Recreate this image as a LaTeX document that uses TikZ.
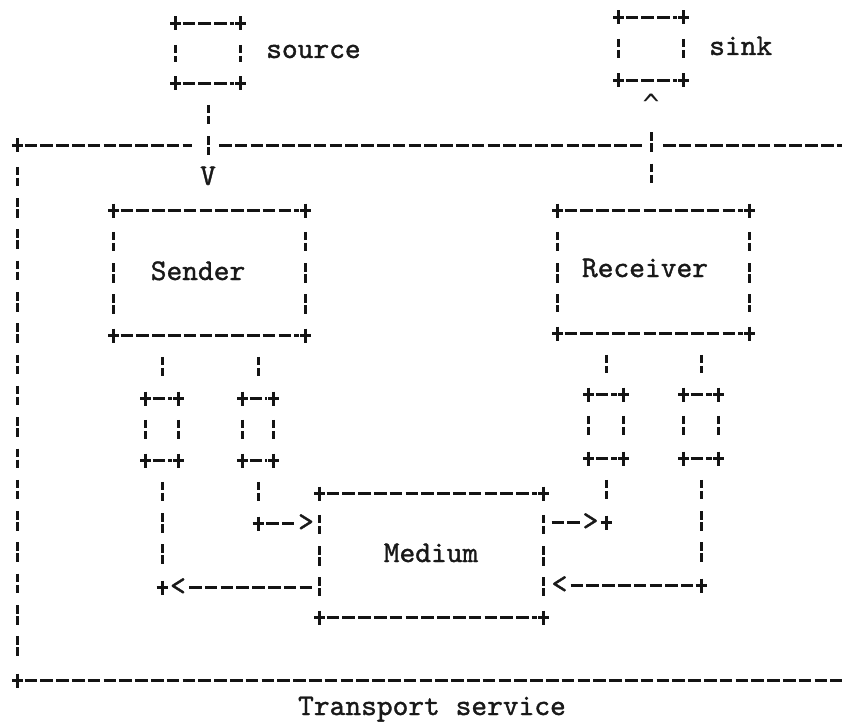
\documentclass[tikz,border=0pt]{standalone}
\usepackage{fontspec}
\usetikzlibrary{fit}
\newfontfamily\typewriter{lmmono10-regular.otf}[FakeBold=1.2]
\newfontfamily\caretfont{DejaVu Sans Mono}

% edge pieces of the character-cell boxes
\newcommand\cellbox[1]{%
  \draw[hline] (#1.north west) -- (#1.north east);
  \draw[hline] (#1.south west) -- (#1.south east);
  \draw[vline] (#1.north west) -- (#1.south west);
  \draw[vline] (#1.north east) -- (#1.south east);
  \foreach \c in {north west,north east,south west,south east}
    \pic at (#1.\c) {plusmark};
}

\begin{document}
\begin{tikzpicture}[x=1pt,y=-1pt,
  ink/.style={draw=black!92, line width=3pt},
  hline/.style={ink, dash pattern=on 12.6pt off 3.2pt,
                shorten <=7pt, shorten >=7pt},
  vline/.style={ink, dash pattern=on 8.5pt off 2.5pt on 8.5pt off 11.8pt,
                shorten <=21.3pt, shorten >=21.3pt},
  cellframe/.style={inner sep=0pt, outer sep=0pt, draw=none},
  txt/.style={font=\typewriter\fontsize{30}{32}\selectfont, inner sep=0pt,
              text=black!90},
  plusmark/.pic={\draw[ink] (-5.5,0) -- (5.5,0) (0,-7) -- (0,7);}
]
\useasboundingbox (0,0) rectangle (842,722);

% ---- boxes ----
\node[cellframe, fit={(175.5,23.5) (240.5,83.5)}]   (src) {};
\node[cellframe, fit={(618.5,17.5) (683.5,80.5)}]   (snk) {};
\node[cellframe, fit={(113.5,210.5) (305.5,335.5)}] (sender) {};
\node[cellframe, fit={(557.5,210.5) (749.5,333.5)}] (receiver) {};
\node[cellframe, fit={(319.5,493.5) (543.5,617.5)}] (medium) {};
\node[cellframe, fit={(145.5,398.5) (178.5,460.5)}] (chA) {};
\node[cellframe, fit={(242.5,398.5) (273.5,460.5)}] (chB) {};
\node[cellframe, fit={(588.5,394.5) (623.5,458.5)}] (chC) {};
\node[cellframe, fit={(683.5,394.5) (718.5,458.5)}] (chD) {};

\foreach \b in {src,snk,sender,receiver,medium,chA,chB,chC,chD}
  {\cellbox{\b}}

% ---- labels ----
\node[txt, anchor=base west] (srclbl) at (266,58)  {source};
\node[txt, anchor=base west] (snklbl) at (709,55)  {sink};
\node[txt, anchor=base] (sndlbl) at (198,280) {Sender};
\node[txt, anchor=base] (rcvlbl) at (645,277) {Receiver};
\node[txt, anchor=base] (medlbl) at (431,562) {Medium};
\node[txt, anchor=base] (tslbl)  at (432,715) {Transport service};

% ---- transport service frame (open to the right) ----
\coordinate (ftl) at (17.5,145.5);
\coordinate (fbl) at (17.5,680.5);
\coordinate (fright) at (842,145.5);
\coordinate (frightb) at (842,680.5);
\coordinate (vsrc) at (src.south);
\coordinate (snkrow) at (651,111);
\draw[vline] (ftl) -- (fbl);
\draw[hline, shorten >=16pt] (ftl) -- (ftl -| vsrc);
\draw[hline, shorten <=11pt, shorten >=6pt] (ftl -| vsrc) -- (ftl -| snkrow);
\draw[hline, shorten <=12pt, shorten >=0pt] (ftl -| snkrow) -- (fright);
\draw[hline, shorten >=0pt] (fbl) -- (frightb);
\pic at (ftl) {plusmark};
\pic at (fbl) {plusmark};

% ---- source into sender ----
\node[txt, anchor=base] (vhead) at (208,185) {V};
\draw[vline] (src.south) -- (vsrc |- 0,176);

% ---- receiver out to sink ----
\node[anchor=base, inner sep=0pt, text=black!90,
      font=\caretfont\fontsize{28}{30}\selectfont] (caret) at (651,115) {\^{}};
\draw[vline, shorten >=27pt] (snkrow) -- (snkrow |- receiver.north);

% ---- channel A: medium back to sender ----
\coordinate (cA) at (chA.south |- 0,587.5);
\draw[vline] (chA.north |- sender.south) -- (chA.north);
\draw[vline] (chA.south) -- (cA);
\pic at (cA) {plusmark};
\node[txt, anchor=base] (ltA) at (178,595) {<};
\draw[hline, shorten <=3pt, shorten >=8pt] (ltA.east |- cA) -- (cA -| medium.west);

% ---- channel B: sender into medium ----
\coordinate (cB) at (chB.south |- 0,523.5);
\draw[vline] (chB.north |- sender.south) -- (chB.north);
\draw[vline] (chB.south) -- (cB);
\pic at (cB) {plusmark};
\node[txt, anchor=base] (gtB) at (306,531) {>};
\draw[hline, shorten <=8pt, shorten >=2pt] (cB) -- (gtB.west |- cB);

% ---- channel C: medium into receiver ----
\coordinate (cC) at (chC.south |- 0,522.5);
\draw[vline] (chC.north |- receiver.south) -- (chC.north);
\draw[vline] (chC.south) -- (cC);
\pic at (cC) {plusmark};
\node[txt, anchor=base] (gtC) at (590.5,530) {>};
\draw[hline, shorten <=8pt, shorten >=2pt] (cC -| medium.east) -- (gtC.west |- cC);

% ---- channel D: receiver back to medium ----
\coordinate (cD) at (chD.south |- 0,585.5);
\draw[vline] (chD.north |- receiver.south) -- (chD.north);
\draw[vline] (chD.south) -- (cD);
\pic at (cD) {plusmark};
\node[txt, anchor=base] (ltD) at (559.5,593) {<};
\draw[hline, shorten <=3pt, shorten >=8pt] (ltD.east |- cD) -- (cD);
\end{tikzpicture}
\end{document}
